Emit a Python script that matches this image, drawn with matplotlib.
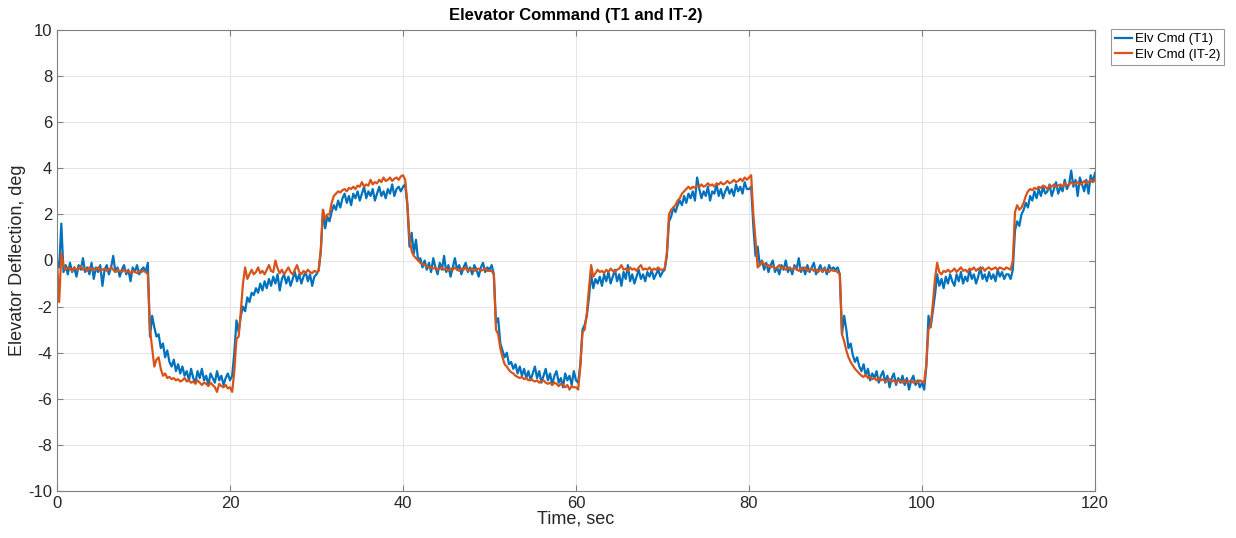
import numpy as np
import matplotlib
matplotlib.use('Agg')
from matplotlib import pyplot as plt

# elevator command samples, every 0.25 s from 0 to 120 s
elv_t1 = [
    0.0, -0.3, 1.6, -0.5, -0.2, -0.6, -0.1, -0.5, -0.3, -0.7,
    -0.2, -0.4, 0.1, -0.5, -0.3, -0.6, -0.1, -0.8, -0.3, -0.5,
    -0.2, -1.1, -0.4, -0.2, -0.6, -0.3, 0.2, -0.5, -0.3, -0.7,
    -0.4, -0.2, -0.6, -0.4, -0.9, -0.3, -0.5, -0.2, -0.6, -0.4,
    # 10 s
    -0.3, -0.5, -0.1, -3.3, -2.4, -2.9, -3.3, -3.2, -3.8, -3.6,
    -4.2, -3.9, -4.4, -4.6, -4.3, -4.8, -4.5, -4.9, -4.6, -5.0,
    -4.8, -5.2, -4.7, -5.1, -5.3, -4.8, -5.1, -4.7, -5.2, -5.0,
    -5.4, -4.9, -5.1, -5.3, -4.8, -5.2, -5.0, -5.4, -5.1, -4.9,
    # 20 s
    -5.2, -5.0, -4.0, -2.6, -3.1, -2.4, -2.0, -2.2, -1.6, -1.8,
    -1.4, -1.5, -1.2, -1.4, -1.0, -1.3, -0.9, -1.2, -0.8, -1.1,
    -0.7, -1.0, -0.6, -1.3, -0.8, -0.6, -1.0, -0.7, -1.1, -0.8,
    -0.5, -0.9, -0.6, -1.0, -0.7, -0.5, -0.9, -0.6, -1.1, -0.7,
    # 30 s
    -0.6, -0.4, 0.4, 2.2, 1.4, 1.9, 1.7, 2.1, 2.4, 2.2,
    2.6, 2.3, 2.7, 2.9, 2.5, 2.8, 2.4, 2.9, 2.7, 3.0,
    2.6, 2.9, 3.2, 2.7, 3.0, 2.8, 3.1, 2.6, 2.9, 3.2,
    2.8, 3.0, 2.7, 3.1, 2.9, 3.3, 2.8, 3.1, 3.2, 3.0,
    # 40 s
    3.2, 3.3, 2.4, 0.6, 1.2, 0.3, 0.9, 0.0, 0.1, -0.3,
    0.0, -0.4, -0.1, -0.5, 0.1, -0.3, -0.6, -0.1, -0.4, 0.2,
    -0.5, -0.2, -0.7, -0.3, 0.1, -0.4, -0.2, -0.6, -0.3, -0.1,
    -0.5, -0.3, -0.6, -0.2, -0.4, -0.7, -0.3, -0.1, -0.5, -0.3,
    # 50 s
    -0.4, -0.2, -0.6, -2.7, -2.5, -3.6, -3.9, -4.2, -4.0, -4.5,
    -4.4, -4.7, -4.5, -4.9, -4.6, -5.0, -4.7, -5.1, -4.8, -5.2,
    -4.9, -4.6, -5.1, -4.8, -5.3, -5.0, -4.7, -5.2, -4.9, -5.4,
    -5.0, -4.8, -5.3, -5.1, -5.5, -4.9, -5.2, -5.0, -5.4, -4.8,
    # 60 s
    -5.2, -5.3, -4.5, -3.0, -2.8, -2.4, -1.6, -0.6, -1.2, -0.8,
    -1.0, -0.7, -1.1, -0.6, -0.9, -0.5, -1.0, -0.7, -0.4, -0.9,
    -0.6, -1.1, -0.5, -0.8, -0.2, -0.9, -0.6, -1.0, -0.7, -0.4,
    -0.8, -0.6, -0.9, -0.5, -0.7, -0.4, -0.8, -0.6, -0.4, -0.7,
    # 70 s
    -0.5, -0.4, 0.2, 1.7, 1.9, 2.3, 2.1, 2.4, 2.6, 2.4,
    2.8, 2.5, 2.9, 2.7, 3.0, 2.6, 3.6, 3.1, 2.7, 3.0,
    2.8, 3.2, 2.6, 3.0, 2.9, 3.3, 2.8, 3.1, 2.7, 3.0,
    3.2, 2.9, 3.1, 2.8, 3.3, 3.0, 3.2, 2.9, 3.4, 3.1,
    # 80 s
    3.1, 3.2, 1.5, 0.2, 0.6, -0.2, 0.0, -0.4, -0.1, -0.5,
    -0.2, 0.0, -0.5, -0.3, -0.6, -0.2, -0.4, 0.0, -0.5, -0.3,
    -0.6, -0.2, -0.4, 0.1, -0.5, -0.3, -0.6, -0.2, -0.5, -0.3,
    -0.1, -0.6, -0.4, -0.2, -0.5, -0.3, -0.6, -0.2, -0.4, -0.3,
    # 90 s
    -0.4, -0.3, -0.6, -3.2, -2.4, -3.0, -3.8, -3.6, -4.1, -4.4,
    -4.2, -4.6, -4.8, -4.5, -5.0, -4.7, -5.2, -4.9, -5.1, -4.8,
    -5.3, -5.0, -4.8, -5.3, -5.0, -5.5, -5.1, -4.9, -5.4, -5.1,
    -5.3, -5.0, -5.4, -5.1, -5.6, -5.2, -5.0, -5.4, -5.2, -5.5,
    # 100 s
    -5.3, -5.6, -4.6, -2.4, -2.9, -2.2, -1.5, -0.6, -1.1, -0.8,
    -1.2, -0.7, -1.0, -0.6, -0.9, -1.1, -0.6, -0.9, -0.5, -1.0,
    -0.7, -0.9, -0.4, -0.8, -0.6, -1.0, -0.7, -0.3, -0.8, -0.6,
    -0.9, -0.5, -0.8, -0.6, -0.9, -0.4, -0.7, -0.5, -0.8, -0.6,
    # 110 s
    -0.6, -0.8, -0.4, 1.3, 1.7, 1.5, 2.0, 2.2, 2.5, 2.3,
    2.8, 2.6, 3.0, 2.7, 3.1, 2.8, 3.2, 2.9, 3.0, 3.3,
    2.8, 3.1, 3.4, 2.9, 3.2, 3.0, 3.5, 3.1, 3.3, 3.9,
    3.2, 3.5, 2.8, 3.6, 3.3, 3.0, 3.5, 2.9, 3.7, 3.4,
    3.8,
]

elv_it2 = [
    0.0, -1.8, 0.3, -0.2, -0.4, -0.3, -0.35, -0.45, -0.3, -0.4,
    -0.35, -0.25, -0.4, -0.35, -0.45, -0.3, -0.4, -0.35, -0.4, -0.3,
    -0.45, -0.4, -0.35, -0.45, -0.4, -0.3, -0.4, -0.5, -0.4, -0.45,
    -0.5, -0.4, -0.5, -0.45, -0.55, -0.45, -0.5, -0.55, -0.45, -0.5,
    # 10 s
    -0.45, -0.5, -0.6, -3.0, -3.8, -4.6, -4.3, -4.2, -4.7, -5.0,
    -4.9, -5.1, -5.05, -5.15, -5.1, -5.2, -5.15, -5.25, -5.2, -5.1,
    -5.25, -5.2, -5.3, -5.25, -5.35, -5.2, -5.3, -5.4, -5.3, -5.35,
    -5.45, -5.3, -5.4, -5.5, -5.7, -5.35, -5.45, -5.5, -5.4, -5.55,
    # 20 s
    -5.5, -5.7, -4.8, -3.4, -3.3, -2.2, -1.0, -0.3, -0.8, -0.6,
    -0.4, -0.6, -0.5, -0.3, -0.55, -0.45, -0.6, -0.4, -0.2, -0.45,
    -0.5, 0.0, -0.35, -0.55, -0.4, -0.6, -0.45, -0.3, -0.5, -0.6,
    -0.4, -0.2, -0.5, -0.6, -0.45, -0.55, -0.4, -0.5, -0.55, -0.45,
    # 30 s
    -0.5, -0.45, 0.5, 2.2, 1.8, 2.0, 2.0, 2.5, 2.8, 2.9,
    3.0, 2.95, 3.05, 3.1, 3.0, 3.15, 3.1, 3.2, 3.1, 3.25,
    3.2, 3.4, 3.2, 3.3, 3.25, 3.5, 3.3, 3.4, 3.35, 3.5,
    3.4, 3.6, 3.45, 3.5, 3.6, 3.45, 3.55, 3.6, 3.5, 3.65,
    # 40 s
    3.7, 3.5, 2.5, 1.0, 0.4, 0.2, 0.1, 0.0, -0.1, -0.15,
    -0.2, -0.25, -0.3, -0.3, -0.35, -0.3, -0.4, -0.35, -0.3, -0.4,
    -0.35, -0.45, -0.35, -0.4, -0.3, -0.4, -0.45, -0.35, -0.4, -0.3,
    -0.45, -0.4, -0.35, -0.45, -0.4, -0.35, -0.45, -0.4, -0.35, -0.45,
    # 50 s
    -0.45, -0.45, -0.6, -3.0, -3.2, -3.8, -4.2, -4.5, -4.6, -4.75,
    -4.85, -4.9, -5.0, -5.05, -5.1, -5.05, -5.15, -5.1, -5.2, -5.15,
    -5.2, -5.25, -5.2, -5.3, -5.25, -5.2, -5.3, -5.35, -5.3, -5.4,
    -5.3, -5.35, -5.45, -5.35, -5.4, -5.5, -5.4, -5.6, -5.45, -5.5,
    # 60 s
    -5.5, -5.6, -4.6, -3.1, -3.0, -2.3, -1.2, -0.2, -0.7, -0.55,
    -0.4, -0.5, -0.45, -0.55, -0.4, -0.5, -0.35, -0.45, -0.5, -0.4,
    -0.35, -0.2, -0.4, -0.35, -0.45, -0.3, -0.4, -0.35, -0.45, -0.3,
    -0.2, -0.4, -0.35, -0.4, -0.3, -0.45, -0.35, -0.4, -0.3, -0.4,
    # 70 s
    -0.4, -0.35, 0.3, 2.0, 2.2, 2.3, 2.4, 2.6, 2.7, 2.9,
    3.0, 3.1, 3.2, 3.1, 3.2, 3.15, 3.25, 3.2, 3.3, 3.2,
    3.25, 3.35, 3.25, 3.3, 3.2, 3.35, 3.3, 3.4, 3.3, 3.35,
    3.45, 3.35, 3.4, 3.5, 3.4, 3.45, 3.55, 3.45, 3.6, 3.5,
    # 80 s
    3.6, 3.7, 2.0, 0.9, -0.3, -0.2, -0.05, -0.15, -0.25, -0.2,
    -0.3, -0.25, -0.35, -0.3, -0.2, -0.35, -0.3, -0.4, -0.3, -0.35,
    -0.4, -0.3, -0.35, -0.45, -0.35, -0.4, -0.3, -0.45, -0.4, -0.35,
    -0.45, -0.4, -0.5, -0.4, -0.45, -0.35, -0.45, -0.5, -0.4, -0.45,
    # 90 s
    -0.45, -0.5, -0.6, -3.2, -3.5, -3.9, -4.2, -4.4, -4.55, -4.7,
    -4.8, -4.9, -5.0, -5.05, -4.95, -5.1, -5.05, -5.15, -5.1, -5.2,
    -5.1, -5.2, -5.15, -5.25, -5.2, -5.15, -5.25, -5.2, -5.3, -5.2,
    -5.25, -5.3, -5.2, -5.3, -5.25, -5.2, -5.3, -5.25, -5.3, -5.2,
    # 100 s
    -5.25, -5.3, -4.5, -3.0, -2.8, -1.9, -0.8, -0.1, -0.5, -0.6,
    -0.45, -0.5, -0.4, -0.5, -0.45, -0.35, -0.5, -0.4, -0.3, -0.45,
    -0.4, -0.5, -0.35, -0.4, -0.3, -0.45, -0.35, -0.4, -0.3, -0.45,
    -0.35, -0.3, -0.4, -0.35, -0.3, -0.4, -0.3, -0.35, -0.4, -0.3,
    # 110 s
    -0.35, -0.4, 0.0, 2.1, 2.4, 2.2, 2.3, 2.5, 2.8, 3.0,
    3.1, 3.05, 3.15, 3.1, 3.2, 3.15, 3.25, 3.2, 3.1, 3.25,
    3.2, 3.3, 3.2, 3.25, 3.3, 3.2, 3.35, 3.25, 3.3, 3.4,
    3.3, 3.35, 3.4, 3.3, 3.35, 3.45, 3.35, 3.4, 3.5, 3.4,
    3.5,
]

time_s = np.linspace(0, 120, len(elv_t1))
x_ticks = [0, 20, 40, 60, 80, 100, 120]
y_ticks = [-10, -8, -6, -4, -2, 0, 2, 4, 6, 8, 10]

plt.rcParams['font.family'] = ['Liberation Sans', 'DejaVu Sans']
plt.rcParams['axes.unicode_minus'] = False

fig = plt.figure(figsize=(12.36, 5.38), dpi=100)
ax = fig.add_axes([57 / 1236, 1 - 491 / 538, (1095 - 57) / 1236, (491 - 30) / 538])

ax.plot(time_s, elv_t1, color='#0072BD', lw=1.6, label='Elv Cmd (T1)')
ax.plot(time_s, elv_it2, color='#D95319', lw=1.6, label='Elv Cmd (IT-2)')

ax.set_xlim(0, 120)
ax.set_ylim(-10, 10)
ax.set_xticks(x_ticks)
ax.set_yticks(y_ticks)
ax.grid(True, color='#e5e5e5', lw=0.7)
ax.set_axisbelow(True)
ax.tick_params(direction='in', top=True, right=True, length=4,
               colors='#808080', labelcolor='#262626', labelsize=12)
for sp in ax.spines.values():
    sp.set_color('#808080')
    sp.set_linewidth(0.8)

ax.set_title('Elevator Command (T1 and IT-2)', fontsize=12, fontweight='bold',
             color='#000000', pad=7)
ax.set_xlabel('Time, sec', fontsize=13, color='#262626', labelpad=0)
ax.set_ylabel('Elevator Deflection, deg', fontsize=13, color='#262626')
ax.yaxis.set_label_coords(-0.03, 0.5)

leg = fig.legend(loc='upper left', bbox_to_anchor=(1111 / 1236, 1 - 29 / 538),
                 fontsize=9.5, frameon=True, fancybox=False, handlelength=1.3,
                 handletextpad=0.2, borderpad=0.3, labelspacing=0.25,
                 borderaxespad=0)
leg.get_frame().set_edgecolor('#808080')
leg.get_frame().set_linewidth(0.8)

fig.savefig('out.png', dpi=100)
plt.close(fig)
